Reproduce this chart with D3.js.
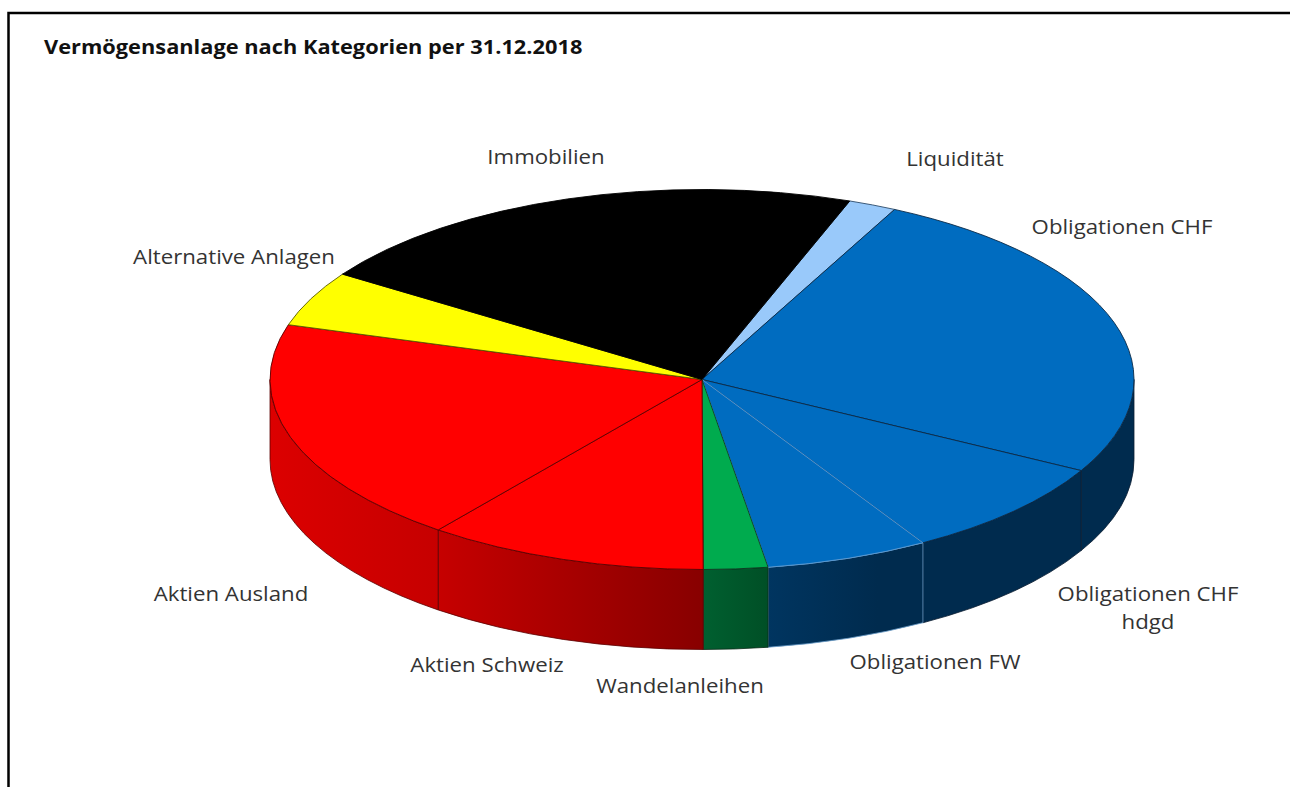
<!DOCTYPE html>
<html><head><meta charset="utf-8">
<script src="https://cdn.jsdelivr.net/npm/d3@7/dist/d3.min.js"></script>
<style>html,body{margin:0;padding:0;background:#fff;overflow:hidden}svg{display:block}</style>
</head><body><svg id="c" width="1290" height="787"></svg>
<script>
const titleText = "Vermögensanlage nach Kategorien per 31.12.2018";
const categories = ["Liquidität","Obligationen CHF","Obligationen CHF hdgd","Obligationen FW","Wandelanleihen","Aktien Schweiz","Aktien Ausland","Alternative Anlagen","Immobilien"];
const values = [1.8,25.6,8.5,6.1,2.4,10.5,19.2,4.7,21.2];
const labelLines = [["Liquidität"],["Obligationen CHF"],["Obligationen CHF","hdgd"],["Obligationen FW"],["Wandelanleihen"],["Aktien Schweiz"],["Aktien Ausland"],["Alternative Anlagen"],["Immobilien"]];
const labelX = [955,1122,1148,935,680,487,231,234,546];
const labelY = [158.5,226.5,593.5,661.5,685.5,664.5,593.5,256.5,156.5];
const topColors = ["#99c9fa","#006cc0","#006cc0","#006cc0","#00ab4e","#ff0000","#ff0000","#ffff00","#000000"];
const strokeColors = ["#2a4a6a","#0a2a48","#0a2a48","#5d9ad0","#0a3a20","#5a0000","#5a0000","#5a5a00","#000000"];
const sideGroups = ["blue","blue","blue","blue","green","red","red","yellow","black"];
const sideStroke = ["#0a2038","#0a1c30","#0a1c30","#6a9cc8","#0a2a18","#5a0000","#5a0000","#333","#000"];

const W=1290,H=787,cx=702,cy=379.5,rx=432,ry=190,depth=80;
const k=ry/rx, depthS=depth/k, stretch=1.09;
const svg=d3.select("#c");
const defs=svg.append("defs");
function grad(id,x1,x2,stops){
  const g=defs.append("linearGradient").attr("id",id).attr("gradientUnits","userSpaceOnUse")
    .attr("x1",x1).attr("x2",x2).attr("y1",0).attr("y2",0);
  stops.forEach(s=>g.append("stop").attr("offset",s[0]).attr("stop-color",s[1]));
}
grad("side-red",-432,0,[[0,"#dc0000"],[0.39,"#c60000"],[1,"#880000"]]);
grad("side-green",0,66,[[0,"#006030"],[1,"#004f26"]]);
grad("side-blue",66,432,[[0,"#003560"],[0.3,"#002b4e"],[1,"#002b4e"]]);
grad("side-yellow",-432,0,[[0,"#cccc00"],[1,"#888800"]]);
grad("side-black",-432,0,[[0,"#000"],[1,"#000"]]);

// frame
svg.append("path").attr("d",d3.line()([[8.5,787],[8.5,13],[1290,13]])).attr("fill","none").attr("stroke","#000").attr("stroke-width",2.5);

// title
svg.append("text").attr("transform",`translate(44,54) scale(${stretch},1)`).text(titleText)
  .attr("font-family","'Open Sans'").attr("font-weight",700).attr("font-size",20).attr("fill","#111");

const start=20*Math.PI/180;
const pie=d3.pie().sort(null).startAngle(start).endAngle(start+2*Math.PI).value(d=>d);
const arcs=pie(values);
const arc=d3.arc().innerRadius(0).outerRadius(rx);
const g=svg.append("g").attr("transform",`translate(${cx},${cy}) scale(1,${k})`);

// sides (visible front half only)
const loA=Math.PI/2, hiA=3*Math.PI/2;
arcs.forEach((a,i)=>{
  const a0=Math.max(a.startAngle,loA), a1=Math.min(a.endAngle,hiA);
  if(a1<=a0) return;
  const p=d3.path();
  const sx=t=>rx*Math.sin(t), sy=t=>-rx*Math.cos(t);
  p.moveTo(sx(a0),sy(a0));
  p.arc(0,0,rx,a0-Math.PI/2,a1-Math.PI/2,false);
  p.lineTo(sx(a1),sy(a1)+depthS);
  p.arc(0,depthS,rx,a1-Math.PI/2,a0-Math.PI/2,true);
  p.closePath();
  g.append("path").attr("d",p.toString()).attr("fill",`url(#side-${sideGroups[i]})`)
   .attr("stroke",sideStroke[i]).attr("stroke-width",0.8).attr("vector-effect","non-scaling-stroke");
});

// top slices
g.selectAll("path.top").data(arcs).join("path").attr("class","top")
  .attr("d",arc).attr("fill",(d,i)=>topColors[i]).attr("stroke",(d,i)=>strokeColors[i])
  .attr("stroke-width",0.9).attr("stroke-linejoin","round").attr("vector-effect","non-scaling-stroke");

// labels
labelLines.forEach((lines,i)=>{
  lines.forEach((t,j)=>{
    svg.append("text").attr("transform",`translate(${labelX[i]},${labelY[i]+j*28+7}) scale(${stretch},1)`)
      .attr("text-anchor","middle").text(t)
      .attr("font-family","'Open Sans'").attr("font-size",20.4).attr("fill","#333");
  });
});
</script></body></html>
